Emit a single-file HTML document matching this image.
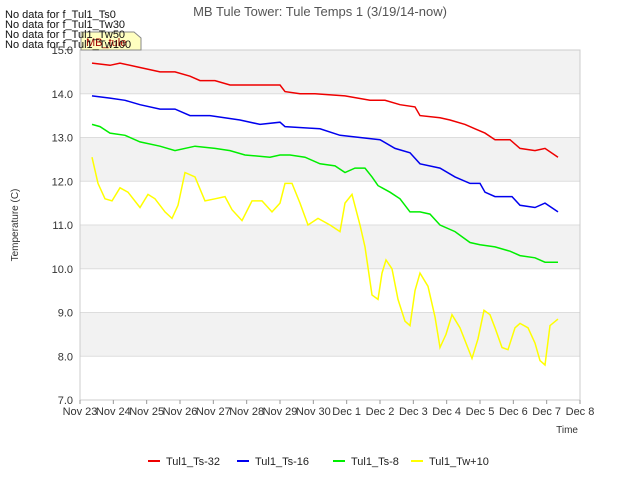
<!DOCTYPE html>
<html><head><meta charset="utf-8"><style>
body{margin:0;background:#fff;font-family:"Liberation Sans",sans-serif}
svg text{font-family:"Liberation Sans",sans-serif}
</style></head><body>
<svg id="c" width="640" height="480" viewBox="0 0 640 480">
<rect width="640" height="480" fill="#fff"/>
<g id="bands"></g>
<rect x="80" y="50" width="500" height="350" fill="none" stroke="#ccc"/>
<g id="axes" font-size="11" fill="#333"></g>
<g id="series"></g>
<text x="320" y="16" text-anchor="middle" font-size="13" fill="#555">MB Tule Tower: Tule Temps 1 (3/19/14-now)</text>
<text x="18" y="225" transform="rotate(-90 18 225)" text-anchor="middle" font-size="10" fill="#333">Temperature (C)</text>
<text x="578" y="433" text-anchor="end" font-size="10" fill="#333">Time</text>
<g><path d="M81,32 H134 L141,38 V50 H81 Z" fill="#ffffc0" stroke="#888"/><text x="86" y="46" font-size="11" fill="#a00000">MB_tule</text></g>
<g font-size="11" fill="#111">
<text x="5" y="18">No data for f_Tul1_Ts0</text>
<text x="5" y="28">No data for f_Tul1_Tw30</text>
<text x="5" y="38">No data for f_Tul1_Tw50</text>
<text x="5" y="48">No data for f_Tul1_Tw100</text>
</g>
<g id="legend" font-size="11" fill="#222"></g>
</svg>
<script>
const yTicks=[7.0,8.0,9.0,10.0,11.0,12.0,13.0,14.0,15.0];
const xLabels=["Nov 23","Nov 24","Nov 25","Nov 26","Nov 27","Nov 28","Nov 29","Nov 30","Dec 1","Dec 2","Dec 3","Dec 4","Dec 5","Dec 6","Dec 7","Dec 8"];
const names=["Tul1_Ts-32","Tul1_Ts-16","Tul1_Ts-8","Tul1_Tw+10"];
const colors=["#ee0000","#0000ee","#00ee00","#ffff00"];
const tRed=[0.36,0.9,1.2,1.8,2.4,2.85,3.3,3.6,4.05,4.5,5.4,6.0,6.15,6.6,7.05,7.95,8.7,9.15,9.6,10.05,10.2,10.8,11.1,11.55,11.85,12.15,12.45,12.9,13.2,13.65,13.95,14.34];
const vRed=[14.7,14.65,14.7,14.6,14.5,14.5,14.4,14.3,14.3,14.2,14.2,14.2,14.05,14.0,14.0,13.95,13.85,13.85,13.75,13.7,13.5,13.45,13.4,13.3,13.2,13.1,12.95,12.95,12.75,12.7,12.75,12.55];
const tBlue=[0.36,0.9,1.35,1.8,2.4,2.85,3.3,3.9,4.8,5.4,6.0,6.15,7.2,7.8,8.4,9.0,9.45,9.9,10.2,10.8,11.25,11.7,12.0,12.15,12.45,12.96,13.2,13.65,13.95,14.34];
const vBlue=[13.95,13.9,13.85,13.75,13.65,13.65,13.5,13.5,13.4,13.3,13.35,13.25,13.2,13.05,13.0,12.95,12.75,12.65,12.4,12.3,12.1,11.95,11.95,11.75,11.65,11.65,11.45,11.4,11.5,11.3];
const tGreen=[0.36,0.6,0.9,1.35,1.8,2.4,2.85,3.45,4.05,4.5,4.95,5.7,6.0,6.3,6.75,7.2,7.65,7.95,8.25,8.55,8.76,8.94,9.3,9.6,9.9,10.2,10.5,10.8,11.25,11.7,12.0,12.45,12.9,13.2,13.65,13.95,14.34];
const vGreen=[13.3,13.25,13.1,13.05,12.9,12.8,12.7,12.8,12.75,12.7,12.6,12.55,12.6,12.6,12.55,12.4,12.35,12.2,12.3,12.3,12.1,11.9,11.75,11.6,11.3,11.3,11.25,11.0,10.85,10.6,10.55,10.5,10.4,10.3,10.25,10.15,10.15];
const tYel=[0.36,0.54,0.75,0.96,1.2,1.44,1.8,2.04,2.25,2.55,2.76,2.94,3.15,3.45,3.75,4.05,4.35,4.56,4.86,5.16,5.46,5.76,6.0,6.15,6.36,6.6,6.84,7.14,7.5,7.8,7.95,8.16,8.4,8.55,8.76,8.94,9.06,9.18,9.36,9.54,9.75,9.9,10.05,10.2,10.44,10.65,10.8,10.98,11.16,11.4,11.58,11.76,11.94,12.12,12.3,12.45,12.66,12.84,13.05,13.2,13.44,13.65,13.8,13.95,14.1,14.34];
const vYel=[12.55,11.95,11.6,11.55,11.85,11.75,11.4,11.7,11.6,11.3,11.15,11.45,12.2,12.1,11.55,11.6,11.65,11.35,11.1,11.55,11.55,11.3,11.5,11.95,11.95,11.5,11.0,11.15,11.0,10.85,11.5,11.7,11.0,10.5,9.4,9.3,9.9,10.2,10.0,9.3,8.8,8.7,9.5,9.9,9.6,8.9,8.2,8.5,8.95,8.65,8.3,7.95,8.4,9.05,8.95,8.65,8.2,8.15,8.65,8.75,8.65,8.3,7.9,7.8,8.7,8.85];
const X=d=>80+d*500/15, Y=v=>50+(15-v)*43.75;
const ns="http://www.w3.org/2000/svg";
function mk(tag,attrs,parent){const e=document.createElementNS(ns,tag);for(const k in attrs)e.setAttribute(k,attrs[k]);parent.appendChild(e);return e;}
const bands=document.getElementById('bands'),axes=document.getElementById('axes'),ser=document.getElementById('series'),leg=document.getElementById('legend');
for(let i=0;i<yTicks.length-1;i++){
 const r=mk('rect',{x:80,y:Y(yTicks[i+1]),width:500,height:Y(yTicks[i])-Y(yTicks[i+1]),fill:(i%2===1)?'#f2f2f2':'#fff'},bands);
 
 
}
yTicks.forEach(v=>{
 mk('line',{x1:80,x2:580,y1:Y(v),y2:Y(v),stroke:'#ddd'},bands);
 const t=mk('text',{x:73,y:Y(v)+4,'text-anchor':'end'},axes);t.textContent=v.toFixed(1);
 
 
});
xLabels.forEach((s,i)=>{
 mk('line',{x1:X(i),x2:X(i),y1:400,y2:404,stroke:'#999'},axes);
 const t=mk('text',{x:X(i),y:415,'text-anchor':'middle'},axes);t.textContent=s;
 
 
});
[[tRed,vRed],[tBlue,vBlue],[tGreen,vGreen],[tYel,vYel]].forEach((p,k)=>{
 const pts=p[0].map((t,i)=>X(t).toFixed(1)+','+Y(p[1][i]).toFixed(1)).join(' ');
 const pl=mk('polyline',{points:pts,fill:'none',stroke:colors[k],'stroke-width':1.5},ser);
 
 
});
const lx=[148,237,333,411];
names.forEach((n,k)=>{
 const g=mk('g',{},leg);
 
 
 mk('line',{x1:lx[k],x2:lx[k]+12,y1:461,y2:461,stroke:colors[k],'stroke-width':2},g);
 const t=mk('text',{x:lx[k]+18,y:465},g);t.textContent=n;
});
</script>
</body></html>
